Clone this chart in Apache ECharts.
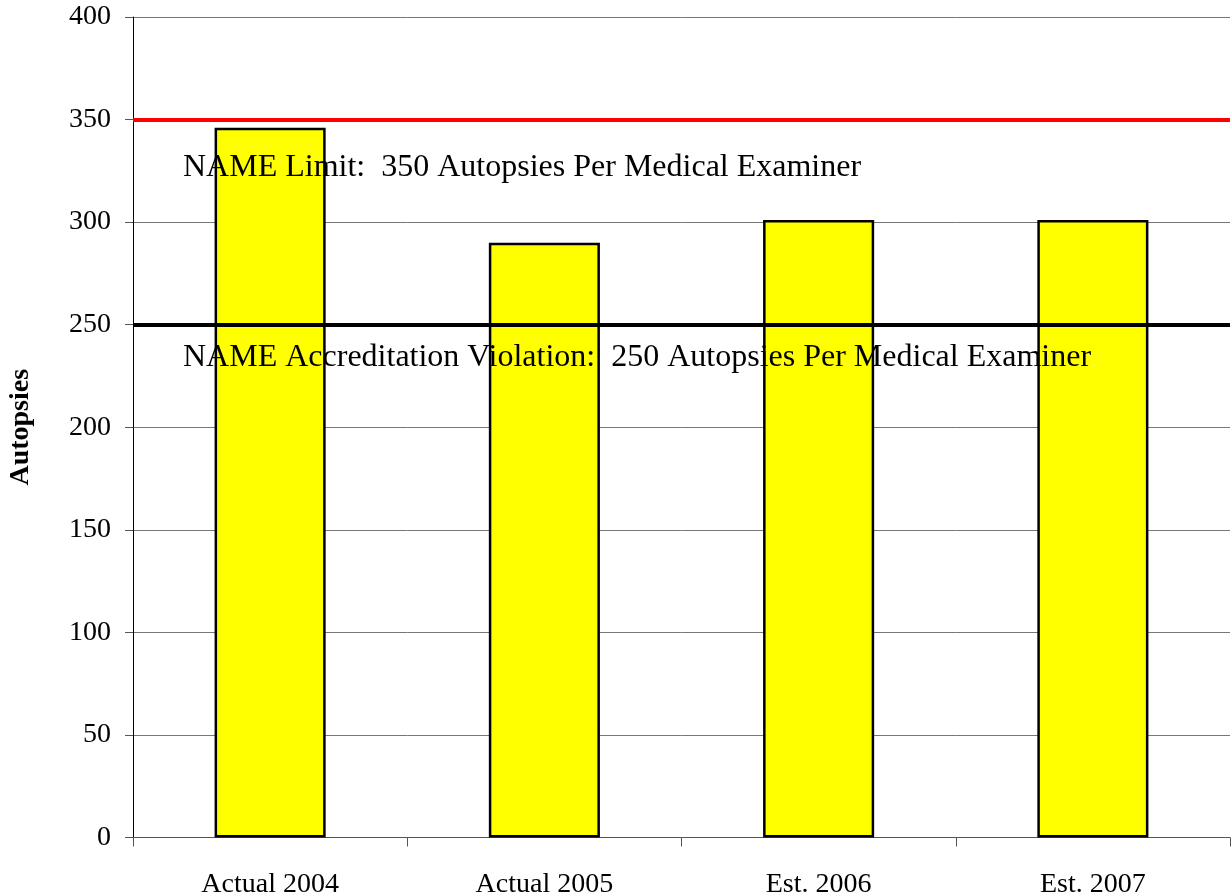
<!DOCTYPE html>
<html>
<head>
<meta charset="utf-8">
<script src="https://cdn.jsdelivr.net/npm/echarts@6/dist/echarts.min.js"></script>
<style>
html, body { margin: 0; padding: 0; background: #fff; }
#chart { width: 1231px; height: 894px; }
</style>
</head>
<body>
<div id="chart"></div>
<script>
"use strict";
var categories = ["Actual 2004", "Actual 2005", "Est. 2006", "Est. 2007"];
var autopsies = [346, 290, 301, 301];
var yTicks = [0, 50, 100, 150, 200, 250, 300, 350, 400];
var limitValue = 350;
var limitText = "NAME Limit:  350 Autopsies Per Medical Examiner";
var violationValue = 250;
var violationText = "NAME Accreditation Violation:  250 Autopsies Per Medical Examiner";

var font = "'Liberation Serif', 'Times New Roman', serif";
var chart = echarts.init(document.getElementById("chart"));
var option = {
    animation: false,
    grid: {left: 133, right: 1, top: 17, bottom: 56.5, outerBoundsMode: "none", containLabel: false},
    xAxis: {
        type: "category",
        data: categories,
        axisLine: {lineStyle: {color: "#555", width: 1}},
        axisTick: {show: true, alignWithLabel: false, length: 9, lineStyle: {color: "#555"}},
        axisLabel: {color: "#000", fontFamily: font, fontSize: 28, margin: 33}
    },
    yAxis: {
        type: "value",
        min: yTicks[0],
        max: yTicks[yTicks.length - 1],
        interval: 50,
        name: "Autopsies",
        nameLocation: "middle",
        nameGap: 98,
        nameTextStyle: {color: "#000", fontFamily: font, fontSize: 28, fontWeight: "bold"},
        axisLine: {show: true, lineStyle: {color: "#000", width: 1}},
        axisTick: {show: true, length: 8, lineStyle: {color: "#555"}},
        axisLabel: {color: "#000", fontFamily: font, fontSize: 28, margin: 22},
        splitLine: {show: true, lineStyle: {color: "#777", width: 1}}
    },
    series: [{
        type: "bar",
        data: autopsies,
        barWidth: "40.5%",
        itemStyle: {color: "#ffff00", borderColor: "#000", borderWidth: 2.5},
        markLine: {
            silent: true,
            symbol: "none",
            data: [
                {yAxis: limitValue, lineStyle: {color: "#ff0000", width: 4, type: "solid"},
                    label: {formatter: limitText, distance: [50, 32]}},
                {yAxis: violationValue, lineStyle: {color: "#000", width: 4, type: "solid"},
                    label: {formatter: violationText, distance: [50, 17]}}
            ],
            label: {
                show: true,
                position: "insideStartBottom",
                color: "#000",
                fontFamily: font,
                fontSize: 32
            }
        }
    }]
};
chart.setOption(option);
</script>
</body>
</html>
